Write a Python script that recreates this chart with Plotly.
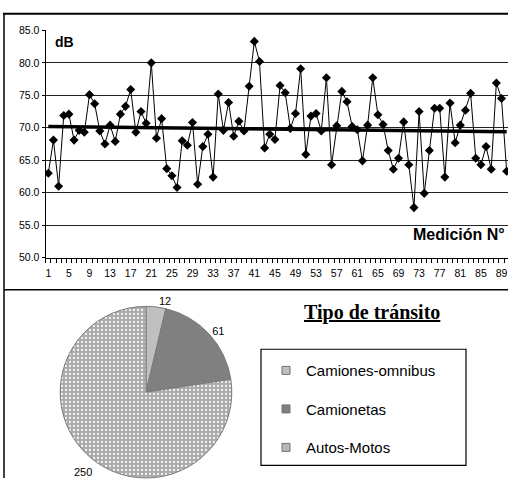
import plotly.graph_objects as go

W, H = 508, 484

# ---------------- data ----------------
measurements = list(range(1, 91))
db_values = [
    63.0, 68.1, 61.0, 71.9, 72.1, 68.1, 69.6, 69.3, 75.1, 73.7,
    69.5, 67.5, 70.4, 67.9, 72.1, 73.3, 75.9, 69.3, 72.5, 70.7,
    80.0, 68.4, 71.4, 63.7, 62.6, 60.8, 68.0, 67.3, 70.8, 61.3,
    67.1, 69.0, 62.4, 75.2, 69.6, 73.9, 68.7, 71.0, 69.5, 76.4,
    83.3, 80.2, 66.9, 69.0, 68.2, 76.5, 75.4, 69.9, 72.2, 79.1,
    65.9, 71.8, 72.2, 69.5, 77.7, 64.3, 70.3, 75.6, 74.0, 70.2,
    69.7, 64.9, 70.4, 77.7, 72.0, 70.5, 66.5, 63.6, 65.3, 70.9,
    64.3, 57.7, 72.5, 59.9, 66.5, 73.0, 73.0, 62.4, 73.8, 67.7,
    70.4, 72.7, 75.3, 65.3, 64.3, 67.1, 63.6, 76.9, 74.5, 63.3,
]
trend_x = [1, 90]
trend_values = [70.2, 69.4]

y_tick_vals = [50, 55, 60, 65, 70, 75, 80, 85]
y_tick_text = ["50.0", "55.0", "60.0", "65.0", "70.0", "75.0", "80.0", "85.0"]
x_tick_vals = list(range(1, 90, 4))
x_tick_text = [str(v) for v in x_tick_vals]

traffic_types = ["Camiones-omnibus", "Camionetas", "Autos-Motos"]
traffic_counts = [12, 61, 250]
traffic_colors = ["#c0c0c0", "#808080", "#b8b8b8"]

FONT = "Liberation Sans, Arial, sans-serif"
SERIF = "Liberation Serif, Times New Roman, serif"


def px(x):
    return x / W


def py(y):
    return 1 - y / H


fig = go.Figure()

# trend line
fig.add_trace(go.Scatter(
    x=trend_x, y=trend_values, mode="lines",
    line=dict(color="black", width=3.5), showlegend=False, hoverinfo="skip",
))
# measurements
fig.add_trace(go.Scatter(
    x=measurements, y=db_values, mode="lines+markers",
    line=dict(color="black", width=1),
    marker=dict(symbol="diamond", size=7, color="black"),
    showlegend=False,
))

# pie
fig.add_trace(go.Pie(
    labels=traffic_types, values=traffic_counts, sort=False,
    direction="clockwise", rotation=0,
    marker=dict(
        colors=traffic_colors,
        line=dict(color="#7a7a7a", width=1),
        pattern=dict(shape=["", "", "."], fgcolor="#f4f4f4",
                     bgcolor=["#c0c0c0", "#808080", "#aaaaaa"],
                     fillmode="replace", size=4, solidity=0.25),
    ),
    textinfo="value",
    textposition=["outside", "outside", "none"],
    textfont=dict(family=FONT, size=11, color="black"),
    domain=dict(x=[px(58), px(234)], y=[0, 176 / H]),
    showlegend=False,
    hoverinfo="label+value",
))

# legend entries (one per traffic type)
for name, col in zip(traffic_types, traffic_colors):
    fig.add_trace(go.Scatter(
        x=[None], y=[None], mode="markers", name=name, legendgroup=name,
        marker=dict(symbol="square", size=8, color=col,
                    line=dict(color="#707070", width=1)),
    ))

annotations = [
    dict(text="<b>dB</b>", x=px(53), y=py(37), xref="paper", yref="paper",
         xanchor="left", yanchor="middle", showarrow=False,
         font=dict(family=FONT, size=14, color="black")),
    dict(text="<b>Medición N°</b>", x=px(507), y=py(234), xref="paper", yref="paper",
         xanchor="right", yanchor="middle", showarrow=False,
         font=dict(family=FONT, size=16, color="black")),
    dict(text="<b><u>Tipo de tránsito</u></b>", x=px(372), y=py(314),
         xref="paper", yref="paper", xanchor="center", yanchor="middle",
         showarrow=False, font=dict(family=SERIF, size=20, color="black")),
    dict(text=str(traffic_counts[2]), x=px(83), y=py(478), xref="paper", yref="paper",
         xanchor="center", yanchor="middle", showarrow=False,
         font=dict(family=FONT, size=11, color="black")),
]

shapes = [
    dict(type="line", xref="paper", yref="paper", x0=px(3), x1=1, y0=py(8), y1=py(8),
         line=dict(color="black", width=2)),
    dict(type="line", xref="paper", yref="paper", x0=px(4), x1=px(4), y0=py(8), y1=0,
         line=dict(color="black", width=1.5)),
    dict(type="line", xref="paper", yref="paper", x0=px(4), x1=1, y0=py(291), y1=py(291),
         line=dict(color="black", width=1.5)),
    dict(type="rect", xref="paper", yref="paper", x0=px(261), x1=px(466),
         y0=py(471), y1=py(352), line=dict(color="black", width=1.2)),
]

fig.update_layout(
    width=W, height=H,
    margin=dict(l=0, r=0, t=0, b=0),
    paper_bgcolor="white", plot_bgcolor="white",
    font=dict(family=FONT, color="black"),
    xaxis=dict(
        domain=[px(45.5), 1], range=[0.456, 90.26],
        tickmode="array", tickvals=x_tick_vals, ticktext=x_tick_text,
        ticks="", showgrid=False, zeroline=False,
        showline=True, linecolor="black", linewidth=1,
        tickfont=dict(family=FONT, size=10.5, color="black"),
        minor=dict(ticks="outside", tickmode="linear", tick0=0.5, dtick=1,
                   ticklen=4, tickcolor="black", showgrid=False),
        ticklabelstandoff=6,
    ),
    yaxis=dict(
        domain=[py(258), py(25)], range=[50, 85],
        tickmode="array", tickvals=y_tick_vals, ticktext=y_tick_text,
        ticks="outside", ticklen=3, tickcolor="black",
        showgrid=True, gridcolor="#222222", gridwidth=1, zeroline=False,
        showline=True, linecolor="black", linewidth=1,
        tickfont=dict(family=FONT, size=10.5, color="black"),
    ),
    legend=dict(
        x=px(266), y=py(357), xanchor="left", yanchor="top",
        bgcolor="rgba(0,0,0,0)", borderwidth=0,
        font=dict(family=FONT, size=15, color="black"),
        tracegroupgap=16, traceorder="grouped",
    ),
    annotations=annotations,
    shapes=shapes,
)

fig.write_html(
    "out.html",
    config={"displayModeBar": False},
    post_script="document.body.style.margin='0';document.body.style.padding='0';"
                "document.body.style.overflow='hidden';",
)
